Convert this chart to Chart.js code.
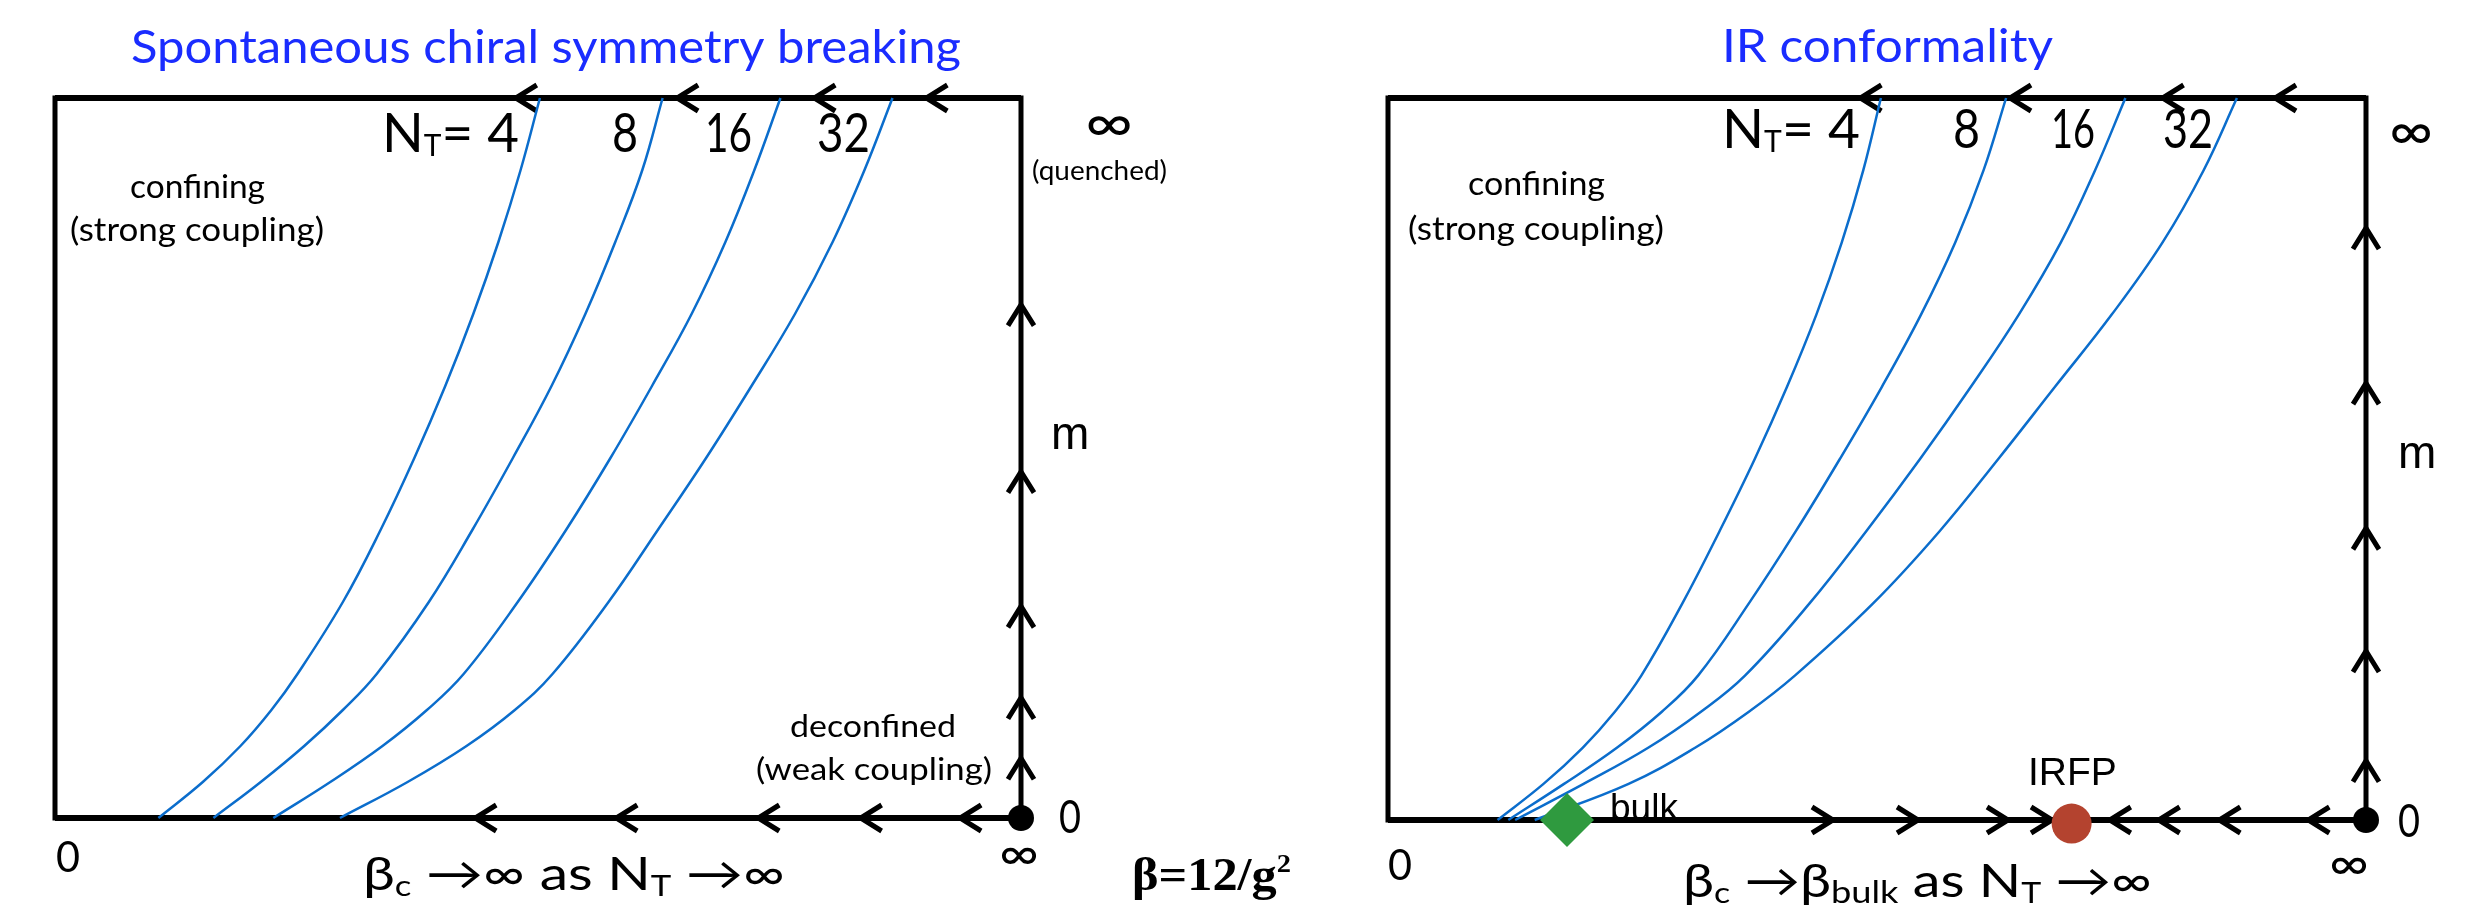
<!DOCTYPE html>
<html>
<head>
<meta charset="utf-8">
<script src="https://cdn.jsdelivr.net/npm/chart.js@4.4.1/dist/chart.umd.min.js"></script>
<style>
    html, body { margin: 0; padding: 0; background: #fff; }
    body { width: 2471px; height: 905px; position: relative; overflow: hidden; }
    canvas { position: absolute; top: 0; }
    #chiralChart { left: 0; }
    #conformalChart { left: 1330px; }
</style>
</head>
<body>
<canvas id="chiralChart" width="1330" height="905"></canvas>
<canvas id="conformalChart" width="1141" height="905"></canvas>
<script>
// =====================================
// Data  (x = beta, 0 .. infinity drawn as 0 .. 100; y = m, 0 .. infinity drawn as 0 .. 100)
// =====================================
const ntLabels = ["4", "8", "16", "32"];
const betaEndLabels = ["0", "∞"];
const massEndLabels = ["0", "∞"];

// Left panel: spontaneous chiral symmetry breaking, transition lines per N_T
const chiralNt4  = [[10.7,0],[15.3,5],[19.2,10],[22.4,15],[25.1,20],[29.8,30],[33.7,40],[37.2,50],[40.4,60],[43.3,70],[45.9,80],[48.2,90],[50.2,100]];
const chiralNt8  = [[16.4,0],[21.3,5],[25.8,10],[29.8,15],[33.3,20],[38.7,30],[43.2,40],[47.4,50],[51.4,60],[54.9,70],[58.0,80],[60.8,90],[62.9,100]];
const chiralNt16 = [[22.6,0],[28.5,5],[33.9,10],[38.5,15],[42.3,20],[47.9,30],[52.9,40],[57.5,50],[61.8,60],[65.9,70],[69.4,80],[72.4,90],[75.1,100]];
const chiralNt32 = [[29.5,0],[36.5,5],[42.6,10],[47.6,15],[51.5,20],[57.3,30],[62.4,40],[67.4,50],[72.1,60],[76.6,70],[80.5,80],[83.8,90],[86.7,100]];

// Right panel: IR conformality, transition lines per N_T
const conformalNt4  = [[11.2,0],[15.9,5],[19.9,10],[23.2,15],[25.9,20],[30.1,30],[33.9,40],[37.5,50],[40.8,60],[43.8,70],[46.4,80],[48.6,90],[50.4,100]];
const conformalNt8  = [[12.3,0],[18.0,5],[23.4,10],[28.0,15],[31.7,20],[36.9,30],[41.7,40],[46.2,50],[50.5,60],[54.5,70],[58.0,80],[60.9,90],[63.2,100]];
const conformalNt16 = [[13.0,0],[20.0,5],[26.6,10],[32.0,15],[36.5,20],[43.1,30],[48.9,40],[54.4,50],[59.6,60],[64.5,70],[68.8,80],[72.3,90],[75.4,100]];
const conformalNt32 = [[15.0,0],[24.6,5],[31.4,10],[36.9,15],[41.6,20],[49.6,30],[56.4,40],[62.4,50],[68.2,60],[74.0,70],[79.2,80],[83.4,90],[86.8,100]];

// Fixed points
const gaussianPoint = [[100, 0]];
const bulkPoint = [[18.3, 0]];
const irfpPoint = [[69.9, -0.5]];

// Flow arrows along the edges
const chiralTopArrows = [47.7, 64.4, 78.6, 90.2];
const chiralBottomArrows = [43.5, 58.1, 72.8, 83.4, 93.7];
const chiralMassArrows = [8.3, 16.7, 29.4, 48.1, 71.3];
const conformalTopArrows = [48.3, 63.6, 79.2, 90.7];
const conformalBottomRight = [45.5, 54.2, 63.4, 67.9];
const conformalBottomLeft = [73.8, 78.8, 85.0, 94.1];
const conformalMassArrows = [8.2, 23.4, 40.4, 60.5, 82.0];

// =====================================
// Helpers
// =====================================
const GILL = "Lato, 'Open Sans', 'DejaVu Sans', sans-serif";
const HELV = "'Liberation Sans', Arial, sans-serif";
const TIMES = "'Liberation Serif', 'Times New Roman', serif";
const TITLE_BLUE = "#1a2cff";
const CURVE_BLUE = "#0b6dcc";

const toPoints = arr => arr.map(p => ({ x: p[0], y: p[1] }));

function curveDataset(label, data) {
    return {
        label: label,
        data: toPoints(data),
        showLine: true,
        borderColor: CURVE_BLUE,
        borderWidth: 2.5,
        pointRadius: 0,
        tension: 0.4,
        clip: false,
        order: 2
    };
}

function markerDataset(label, data, style, radius, color) {
    return {
        label: label,
        data: toPoints(data),
        showLine: false,
        pointStyle: style,
        pointRadius: radius,
        pointBackgroundColor: color,
        pointBorderColor: color,
        pointBorderWidth: 0,
        clip: false,
        order: 0
    };
}

function chevron(ctx, x, y, dir) {
    const back = 21, half = 13;
    ctx.beginPath();
    if (dir === "left") {
        ctx.moveTo(x + back, y - half); ctx.lineTo(x, y); ctx.lineTo(x + back, y + half);
    } else if (dir === "right") {
        ctx.moveTo(x - back, y - half); ctx.lineTo(x, y); ctx.lineTo(x - back, y + half);
    } else {
        ctx.moveTo(x - half, y + back); ctx.lineTo(x, y); ctx.lineTo(x + half, y + back);
    }
    ctx.stroke();
}

function fontOf(p) {
    return `${p.weight || "normal"} ${p.size}px ${p.family || GILL}`;
}

// Draws a run of text pieces (for subscripts), squeezed to a target width if given
function drawRich(ctx, item, left, top) {
    let natural = 0;
    const widths = item.parts.map(p => {
        ctx.font = fontOf(p);
        const w = ctx.measureText(p.t).width;
        natural += w;
        return w;
    });
    const sx = item.width ? item.width / natural : 1;
    ctx.save();
    ctx.translate(left + item.dx, top + item.dy);
    ctx.scale(sx, 1);
    ctx.fillStyle = item.color || "#000";
    ctx.textBaseline = "alphabetic";
    ctx.textAlign = "left";
    let cx = 0;
    item.parts.forEach((p, i) => {
        ctx.font = fontOf(p);
        ctx.fillText(p.t, cx, p.dy || 0);
        cx += widths[i];
    });
    ctx.restore();
}

const txt = (t, size, extra) => Object.assign({ t: t, size: size }, extra || {});

// =====================================
// Plugin: box, flow arrows and labels
// =====================================
function makeFlowPlugin(cfg) {
    return {
        id: "flowDiagram",
        beforeDatasetsDraw(chart) {
            const { ctx, scales: { x, y } } = chart;
            const X = v => x.getPixelForValue(v);
            const Y = v => y.getPixelForValue(v);
            ctx.save();
            ctx.strokeStyle = "#000";
            ctx.lineWidth = 5;
            ctx.lineCap = "butt";
            ctx.lineJoin = "miter";
            ctx.beginPath();
            ctx.moveTo(X(0), Y(0));
            ctx.lineTo(X(0), Y(100));
            ctx.lineTo(X(100), Y(100));
            ctx.lineTo(X(100), Y(0));
            ctx.closePath();
            ctx.stroke();
            ctx.lineWidth = 6;
            ctx.beginPath();
            ctx.moveTo(X(0), Y(100)); ctx.lineTo(X(100), Y(100));
            ctx.moveTo(X(0), Y(0)); ctx.lineTo(X(100), Y(0));
            ctx.stroke();
            ctx.lineWidth = 5;
            cfg.topArrows.forEach(b => chevron(ctx, X(b), Y(100), "left"));
            cfg.bottomLeft.forEach(b => chevron(ctx, X(b), Y(0), "left"));
            cfg.bottomRight.forEach(b => chevron(ctx, X(b), Y(0), "right"));
            cfg.massArrows.forEach(m => chevron(ctx, X(100), Y(m), "up"));
            ctx.restore();
        },
        afterDraw(chart) {
            const { ctx, chartArea } = chart;
            cfg.labels.forEach(item => drawRich(ctx, item, chartArea.left, chartArea.top));
        }
    };
}

function baseOptions(padding) {
    return {
        responsive: false,
        animation: false,
        devicePixelRatio: 1,
        layout: { padding: padding },
        scales: {
            x: { type: "linear", min: 0, max: 100, display: false },
            y: { type: "linear", min: 0, max: 100, display: false }
        },
        plugins: { legend: { display: false }, tooltip: { enabled: false } }
    };
}

// =====================================
// Left panel
// =====================================
const chiralLabels = [
    { dx: 76, dy: -35, width: 830, color: TITLE_BLUE, parts: [txt("Spontaneous chiral symmetry breaking", 47)] },
    { dx: 327, dy: 54, width: 137, parts: [txt("N", 55), txt("T", 30, { dy: 4 }), txt("= " + ntLabels[0], 55)] },
    { dx: 557, dy: 54, width: 26, parts: [txt(ntLabels[1], 55)] },
    { dx: 650, dy: 54, width: 47, parts: [txt(ntLabels[2], 55)] },
    { dx: 762, dy: 54, width: 53, parts: [txt(ntLabels[3], 55)] },
    { dx: 1030, dy: 44, width: 48, parts: [txt(massEndLabels[1], 55)] },
    { dx: 977, dy: 82, width: 135, parts: [txt("(quenched)", 26)] },
    { dx: 75, dy: 100, width: 135, parts: [txt("confining", 32)] },
    { dx: 15, dy: 143, width: 254, parts: [txt("(strong coupling)", 32)] },
    { dx: 735, dy: 639, width: 166, parts: [txt("deconfined", 30)] },
    { dx: 701, dy: 682, width: 236, parts: [txt("(weak coupling)", 30)] },
    { dx: 996, dy: 351, parts: [txt("m", 46, { family: HELV })] },
    { dx: 1, dy: 774, width: 24, parts: [txt(betaEndLabels[0], 42)] },
    { dx: 308, dy: 792, width: 422, parts: [
        txt("β", 46), txt("c", 28, { dy: 6 }), txt(" →∞ as N", 46), txt("T", 28, { dy: 6 }), txt(" →∞", 46)] },
    { dx: 944, dy: 772, width: 40, parts: [txt(betaEndLabels[1], 48)] },
    { dx: 1004, dy: 735, width: 22, parts: [txt(massEndLabels[0], 46)] },
    { dx: 1077, dy: 792, width: 159, parts: [
        txt("β=12/g", 46, { family: TIMES, weight: "bold" }), txt("2", 26, { family: TIMES, weight: "bold", dy: -18 })] }
];

new Chart(document.getElementById("chiralChart"), {
    type: "scatter",
    data: {
        datasets: [
            markerDataset("fixed point", gaussianPoint, "circle", 13, "#000"),
            curveDataset("N_T = 4", chiralNt4),
            curveDataset("N_T = 8", chiralNt8),
            curveDataset("N_T = 16", chiralNt16),
            curveDataset("N_T = 32", chiralNt32)
        ]
    },
    options: baseOptions({ left: 55, right: 309, top: 98, bottom: 87 }),
    plugins: [makeFlowPlugin({
        topArrows: chiralTopArrows,
        bottomLeft: chiralBottomArrows,
        bottomRight: [],
        massArrows: chiralMassArrows,
        labels: chiralLabels
    })]
});

// =====================================
// Right panel
// =====================================
const conformalLabels = [
    { dx: 334, dy: -36, width: 331, color: TITLE_BLUE, parts: [txt("IR conformality", 47)] },
    { dx: 334, dy: 50, width: 138, parts: [txt("N", 55), txt("T", 30, { dy: 4 }), txt("= " + ntLabels[0], 55)] },
    { dx: 565, dy: 50, width: 27, parts: [txt(ntLabels[1], 55)] },
    { dx: 663, dy: 50, width: 44, parts: [txt(ntLabels[2], 55)] },
    { dx: 775, dy: 50, width: 50, parts: [txt(ntLabels[3], 55)] },
    { dx: 1001, dy: 52, width: 44, parts: [txt(massEndLabels[1], 55)] },
    { dx: 80, dy: 97, width: 137, parts: [txt("confining", 32)] },
    { dx: 20, dy: 142, width: 256, parts: [txt("(strong coupling)", 32)] },
    { dx: 1010, dy: 370, parts: [txt("m", 46, { family: HELV })] },
    { dx: 222, dy: 722, parts: [txt("bulk", 37, { family: HELV })] },
    { dx: 640, dy: 687, parts: [txt("IRFP", 39, { family: HELV })] },
    { dx: 0, dy: 782, width: 24, parts: [txt(betaEndLabels[0], 42)] },
    { dx: 941, dy: 782, width: 40, parts: [txt(betaEndLabels[1], 48)] },
    { dx: 1010, dy: 739, width: 22, parts: [txt(massEndLabels[0], 46)] },
    { dx: 295, dy: 799, width: 469, parts: [
        txt("β", 46), txt("c", 28, { dy: 6 }), txt(" →β", 46), txt("bulk", 30, { dy: 6 }),
        txt(" as N", 46), txt("T", 28, { dy: 6 }), txt(" →∞", 46)] }
];

new Chart(document.getElementById("conformalChart"), {
    type: "scatter",
    data: {
        datasets: [
            markerDataset("fixed point", gaussianPoint, "circle", 13, "#000"),
            markerDataset("bulk", bulkPoint, "rectRot", 27, "#2f9a3f"),
            markerDataset("IRFP", irfpPoint, "circle", 20, "#b4432f"),
            curveDataset("N_T = 4", conformalNt4),
            curveDataset("N_T = 8", conformalNt8),
            curveDataset("N_T = 16", conformalNt16),
            curveDataset("N_T = 32", conformalNt32)
        ]
    },
    options: baseOptions({ left: 58, right: 105, top: 98, bottom: 85 }),
    plugins: [makeFlowPlugin({
        topArrows: conformalTopArrows,
        bottomLeft: conformalBottomLeft,
        bottomRight: conformalBottomRight,
        massArrows: conformalMassArrows,
        labels: conformalLabels
    })]
});
</script>
</body>
</html>
